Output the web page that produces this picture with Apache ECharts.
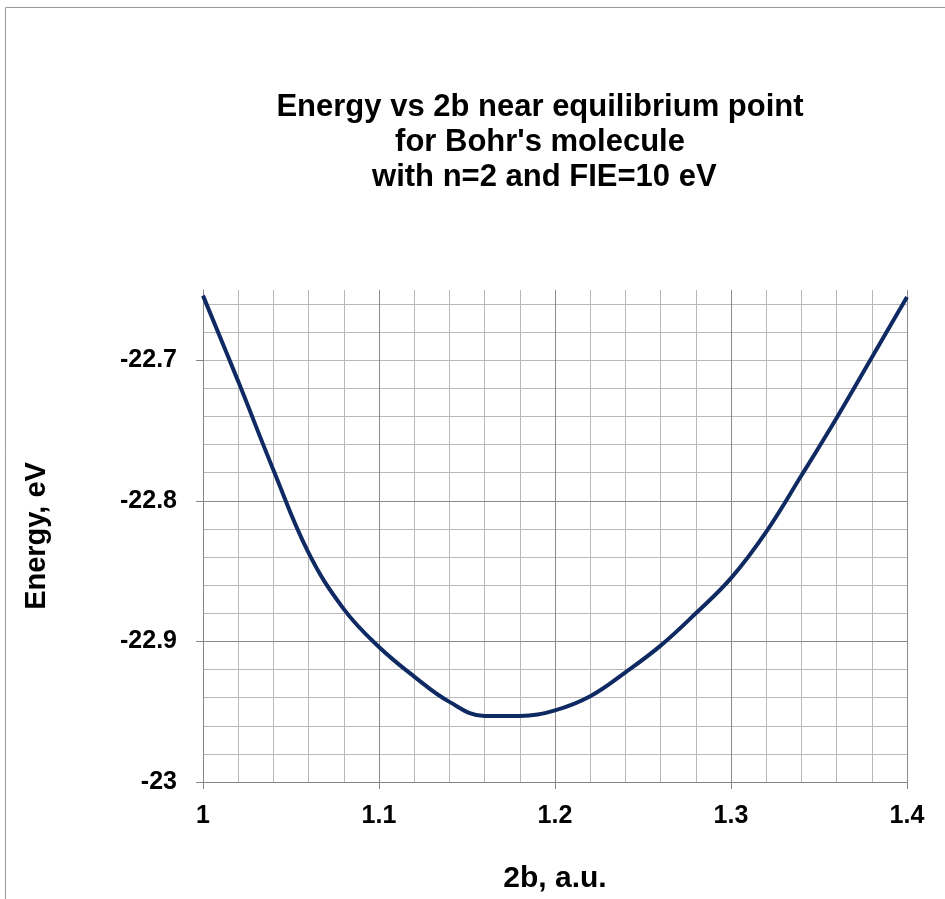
<!DOCTYPE html>
<html>
<head>
<meta charset="utf-8">
<title>Energy vs 2b</title>
<script src="https://cdn.jsdelivr.net/npm/echarts@6/dist/echarts.min.js"></script>
<style>
  html, body { margin: 0; padding: 0; background: #ffffff; }
  #chart { width: 945px; height: 899px; }
</style>
</head>
<body>
<div id="chart"></div>
<script>
// Internuclear distance 2b (atomic units)
const separation = [1.00, 1.02, 1.04, 1.06, 1.08, 1.10, 1.12, 1.14, 1.16, 1.18, 1.20,
                    1.22, 1.24, 1.26, 1.28, 1.30, 1.32, 1.34, 1.36, 1.38, 1.40];
// Total energy (eV)
const energy = [-22.654, -22.715, -22.778, -22.837, -22.877, -22.904, -22.925, -22.943,
                -22.953, -22.953, -22.949, -22.939, -22.922, -22.903, -22.880, -22.855,
                -22.822, -22.782, -22.741, -22.698, -22.655];
// Labelled ticks
const xTicks = [1, 1.1, 1.2, 1.3, 1.4];
const yTicks = [-23, -22.9, -22.8, -22.7];

const FONT = '"Liberation Sans", Arial, sans-serif';
const MAJOR = '#8a8a8a';
const MINOR = '#b8b8b8';

const chart = echarts.init(document.getElementById('chart'), null, { renderer: 'canvas' });

const points = separation.map((x, i) => [x, energy[i]]);

chart.setOption({
  backgroundColor: '#ffffff',
  animation: false,
  title: {
    text: "Energy vs 2b near equilibrium point\nfor Bohr's molecule\n with n=2 and FIE=10 eV",
    left: 535,
    top: 85,
    textAlign: 'center',
    textStyle: {
      fontFamily: FONT,
      fontWeight: 'bold',
      fontSize: 31,
      lineHeight: 35,
      color: '#000000'
    }
  },
  graphic: [{
    type: 'rect',
    silent: true,
    z: -10,
    shape: { x: 5.5, y: 7.5, width: 1200, height: 1200 },
    style: { fill: 'none', stroke: '#9a9a9a', lineWidth: 1 }
  }],
  grid: { left: 203, right: 38, top: 290, bottom: 112, containLabel: false },
  xAxis: [{
    type: 'value',
    min: 1, max: 1.4, interval: 0.1,
    z: 1,
    name: '2b, a.u.',
    nameLocation: 'middle',
    nameGap: 82,
    nameTextStyle: { fontFamily: FONT, fontWeight: 'bold', fontSize: 30, color: '#000', verticalAlign: 'top' },
    axisLine: { show: true, onZero: false, lineStyle: { color: '#858585', width: 1 } },
    axisTick: { show: true, length: 7, lineStyle: { color: '#858585' } },
    axisLabel: {
      customValues: xTicks,
      margin: 22,
      fontFamily: FONT, fontWeight: 'bold', fontSize: 25, color: '#000',
      formatter: v => String(+v.toFixed(2))
    },
    splitLine: { show: true, lineStyle: { color: MAJOR, width: 1 } }
  }, {
    type: 'value',
    min: 1, max: 1.4, interval: 0.02,
    z: 0,
    position: 'bottom',
    axisLine: { show: false },
    axisTick: { show: false },
    axisLabel: { show: false },
    splitLine: { show: true, lineStyle: { color: MINOR, width: 1 } }
  }],
  yAxis: [{
    type: 'value',
    min: -23, max: -22.65, interval: 0.1,
    z: 1,
    name: 'Energy, eV',
    nameLocation: 'middle',
    nameGap: 152,
    nameRotate: 90,
    nameTextStyle: { fontFamily: FONT, fontWeight: 'bold', fontSize: 29, color: '#000' },
    axisLine: { show: true, onZero: false, lineStyle: { color: '#858585', width: 1 } },
    axisTick: { show: true, length: 7, customValues: yTicks, lineStyle: { color: '#858585' } },
    axisLabel: {
      customValues: yTicks,
      margin: 26,
      fontFamily: FONT, fontWeight: 'bold', fontSize: 25, color: '#000',
      formatter: v => String(+v.toFixed(2))
    },
    splitLine: { show: true, showMaxLine: false, lineStyle: { color: MAJOR, width: 1 } }
  }, {
    type: 'value',
    min: -23, max: -22.65, interval: 0.02,
    z: 0,
    position: 'left',
    axisLine: { show: false },
    axisTick: { show: false },
    axisLabel: { show: false },
    splitLine: { show: true, showMaxLine: false, lineStyle: { color: MINOR, width: 1 } }
  }],
  series: [{
    type: 'line',
    xAxisIndex: 0,
    yAxisIndex: 0,
    data: points,
    smooth: 0.4,
    showSymbol: false,
    symbol: 'none',
    clip: false,
    lineStyle: { color: '#0f2a62', width: 4 },
    z: 5
  }]
});
</script>
</body>
</html>
